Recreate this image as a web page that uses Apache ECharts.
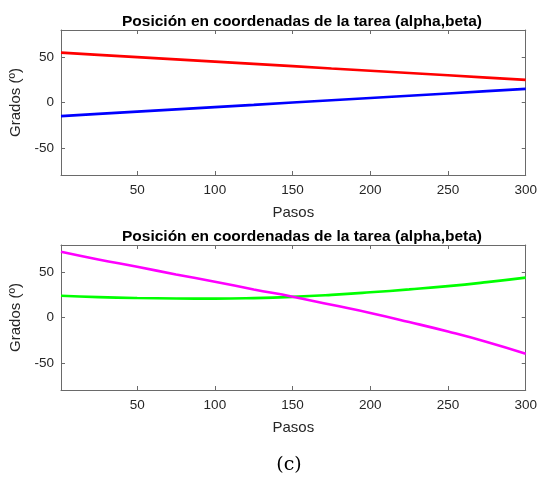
<!DOCTYPE html>
<html>
<head>
<meta charset="utf-8">
<script src="https://cdn.jsdelivr.net/npm/echarts@6/dist/echarts.min.js"></script>
<style>
	html, body { margin: 0; padding: 0; background: #fff; }
	#chart { width: 540px; height: 481px; }
</style>
</head>
<body>
<div id="chart"></div>
<script>
	// datos
	const pasos = [1, 25, 50, 75, 100, 125, 150, 175, 200, 225, 250, 275, 300];
	const alphaArriba = [55, 52.6, 50.1, 47.6, 45.1, 42.6, 40.1, 37.5, 35, 32.5, 30, 27.5, 25];
	const betaArriba = [-15, -12.6, -10.1, -7.6, -5.1, -2.6, 0, 2.5, 5, 7.5, 10, 12.5, 15];
	const alphaAbajo = [24, 22.5, 21.5, 21, 20.8, 21.4, 22.8, 25, 27.8, 31, 34.6, 39, 44];
	const betaAbajo = [72.5, 64, 56, 47.5, 39.5, 31, 23, 14, 5, -5, -15.5, -27, -40];
	const ticksX = [50, 100, 150, 200, 250, 300];
	const ticksY = [-50, 0, 50];

	const titulo = 'Posición en coordenadas de la tarea (alpha,beta)';
	const font = 'Liberation Sans, Arial, sans-serif';
	const gris = '#6a6a6a';
	const texto = '#262626';

	function pares(ys) {
		return pasos.map((x, i) => [x, ys[i]]);
	}

	function ejeX(grid, pos) {
		return {
			type: 'value',
			gridIndex: grid,
			position: pos,
			min: 1,
			max: 300,
			name: pos === 'bottom' ? 'Pasos' : '',
			nameLocation: 'middle',
			nameGap: 30,
			nameTextStyle: { fontFamily: font, fontSize: 15, color: texto },
			axisLine: { show: true, onZero: false, lineStyle: { color: gris, width: 1 } },
			axisTick: { show: true, inside: true, length: 4, customValues: ticksX, lineStyle: { color: gris } },
			axisLabel: { show: pos === 'bottom', customValues: ticksX, margin: 8, fontFamily: font, fontSize: 13.5, color: texto },
			splitLine: { show: false }
		};
	}

	function ejeY(grid, pos) {
		return {
			type: 'value',
			gridIndex: grid,
			position: pos,
			min: -80,
			max: 80,
			name: pos === 'left' ? 'Grados (º)' : '',
			nameLocation: 'middle',
			nameGap: 34,
			nameTextStyle: { fontFamily: font, fontSize: 15, color: texto },
			axisLine: { show: true, onZero: false, lineStyle: { color: gris, width: 1 } },
			axisTick: { show: true, inside: true, length: 4, customValues: ticksY, lineStyle: { color: gris } },
			axisLabel: { show: pos === 'left', customValues: ticksY, margin: 7, fontFamily: font, fontSize: 13.5, color: texto },
			splitLine: { show: false }
		};
	}

	function linea(color, ys, xi, yi, suave) {
		return {
			type: 'line',
			xAxisIndex: xi,
			yAxisIndex: yi,
			data: pares(ys),
			showSymbol: false,
			smooth: suave,
			lineStyle: { color: color, width: 2.6 },
			itemStyle: { color: color }
		};
	}

	let chart = echarts.init(document.getElementById('chart'));
	chart.setOption({
		animation: false,
		backgroundColor: '#fff',
		title: [
			{
				text: titulo, left: 297, top: 9, textAlign: 'center',
				textStyle: { fontFamily: font, fontSize: 15.5, fontWeight: 'bold', color: '#000' }
			},
			{
				text: titulo, left: 297, top: 224, textAlign: 'center',
				textStyle: { fontFamily: font, fontSize: 15.5, fontWeight: 'bold', color: '#000' }
			},
			{
				text: '(c)', left: 284, top: 451, textAlign: 'center',
				textStyle: { fontFamily: 'DejaVu Serif, Liberation Serif, serif', fontSize: 19, fontWeight: 'normal', color: '#000' }
			}
		],
		grid: [
			{ left: 61, right: 11, top: 30, height: 145 },
			{ left: 61, right: 11, top: 245, height: 145 }
		],
		xAxis: [ejeX(0, 'bottom'), ejeX(0, 'top'), ejeX(1, 'bottom'), ejeX(1, 'top')],
		yAxis: [ejeY(0, 'left'), ejeY(0, 'right'), ejeY(1, 'left'), ejeY(1, 'right')],
		series: [
			linea('#ff0000', alphaArriba, 0, 0, false),
			linea('#0000ff', betaArriba, 0, 0, false),
			linea('#00ff00', alphaAbajo, 2, 2, true),
			linea('#ff00ff', betaAbajo, 2, 2, true)
		]
	});
</script>
</body>
</html>
